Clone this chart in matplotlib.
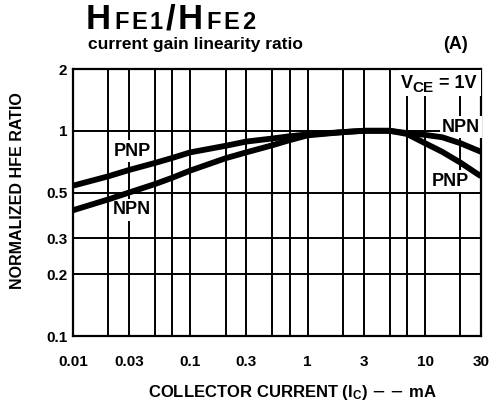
import numpy as np
import matplotlib
matplotlib.use("Agg")
import matplotlib.pyplot as plt
from matplotlib.offsetbox import TextArea, HPacker, AnchoredOffsetbox
from matplotlib.ticker import FixedLocator, NullFormatter, NullLocator

# collector current, mA
current = [0.01, 0.02, 0.03, 0.05, 0.07, 0.1, 0.2, 0.3, 0.5, 0.7,
           1, 2, 3, 5, 7, 10, 14, 20, 30]
# normalized hFE ratio
pnp = [0.54, 0.60, 0.644, 0.697, 0.737, 0.785, 0.845, 0.886, 0.917, 0.94,
       0.96, 0.985, 1.0, 1.0, 0.965, 0.87, 0.79, 0.70, 0.60]
npn = [0.41, 0.463, 0.50, 0.55, 0.59, 0.64, 0.735, 0.785, 0.85, 0.90,
       0.95, 0.985, 1.0, 1.0, 0.975, 0.955, 0.93, 0.87, 0.79]

x_major = [0.01, 0.03, 0.1, 0.3, 1, 3, 10, 30]
x_labels = ["0.01", "0.03", "0.1", "0.3", "1", "3", "10", "30"]
x_minor = [0.02, 0.05, 0.07, 0.2, 0.5, 0.7, 2, 5, 7, 20]
y_major = [0.1, 0.2, 0.3, 0.5, 1, 2]
y_labels = ["0.1", "0.2", "0.3", "0.5", "1", "2"]

W, H = 493, 413
SANS = ["Liberation Sans", "DejaVu Sans"]


def px(x, y):
    return x / W, 1 - y / H


fig = plt.figure(figsize=(W / 100, H / 100), dpi=100)
ax = fig.add_axes([73 / W, 1 - 336 / H, (481 - 73) / W, (336 - 69) / H])

ax.set_xscale("log")
ax.set_yscale("log")
ax.set_xlim(0.01, 30)
ax.set_ylim(0.1, 2)

ax.xaxis.set_major_locator(FixedLocator(x_major))
ax.xaxis.set_minor_locator(FixedLocator(x_minor))
ax.xaxis.set_minor_formatter(NullFormatter())
ax.set_xticklabels(x_labels)
ax.yaxis.set_major_locator(FixedLocator(y_major))
ax.yaxis.set_minor_locator(NullLocator())
ax.set_yticklabels(y_labels)

ax.tick_params(which="both", length=0)
ax.tick_params(axis="x", pad=14)
ax.tick_params(axis="y", pad=4)
for lab in ax.get_xticklabels() + ax.get_yticklabels():
    lab.set_fontfamily(SANS)
    lab.set_fontweight("bold")
    lab.set_fontsize(11)

ax.grid(which="both", color="black", lw=1.4)
for s in ax.spines.values():
    s.set_linewidth(1.6)

ax.plot(current, pnp, color="black", lw=4.2, solid_capstyle="butt", zorder=5)
ax.plot(current, npn, color="black", lw=4.2, solid_capstyle="butt", zorder=5)

box = dict(facecolor="white", edgecolor="none", pad=1.5)
lab_kw = dict(ha="center", va="center", fontsize=13, fontweight="bold",
              family=SANS, bbox=box, zorder=4, transform=fig.transFigure)
ax.text(*px(132, 151), "PNP", **lab_kw)
ax.text(*px(132, 210), "NPN", **lab_kw)
ax.text(*px(461, 127), "NPN", **lab_kw)
ax.text(*px(450, 181), "PNP", **lab_kw)

# V_CE annotation (white box hides the grid behind it)
vk = dict(fontweight="bold", family=SANS, va="baseline", zorder=4,
          transform=fig.transFigure)
ax.add_patch(plt.Rectangle(px(399, 96), 82 / W, 26 / H, transform=fig.transFigure,
                           facecolor="white", edgecolor="none", zorder=3))
ax.text(*px(401, 88), "V", fontsize=13, **vk)
ax.text(*px(412, 92), "CE", fontsize=11, **vk)
ax.text(*px(439, 88), "= 1V", fontsize=13, **vk)

# title with small-caps look
big, small = 25, 17
parts = [("H", big), ("F", small), ("E", small), ("1", small), ("/", big),
         ("H", big), ("F", small), ("E", small), ("2", small)]
areas = [TextArea(t, textprops=dict(fontsize=s, fontweight="bold", family=SANS))
         for t, s in parts]
pack = HPacker(children=areas, align="baseline", pad=0, sep=2.0)
title = AnchoredOffsetbox(loc="lower left", child=pack, frameon=False, pad=0,
                          borderpad=0, bbox_to_anchor=px(86, 36),
                          bbox_transform=fig.transFigure)
fig.add_artist(title)

fig.text(*px(88, 49), "current gain linearity ratio", fontsize=12.5,
         fontweight="bold", family=SANS, va="baseline")
fig.text(*px(468, 49), "(A)", fontsize=13, fontweight="bold", family=SANS,
         va="baseline", ha="right")

fig.text(*px(18, 191), "NORMALIZED HFE RATIO", rotation=90, fontsize=11.5,
         fontweight="bold", family=SANS, ha="center", va="center")
fig.text(*px(292, 392), r"COLLECTOR CURRENT ($\mathregular{I_C}$) $-$ $-$ mA",
         fontsize=12, fontweight="bold", family=SANS, ha="center", va="center")

fig.savefig("out.png", dpi=100)
